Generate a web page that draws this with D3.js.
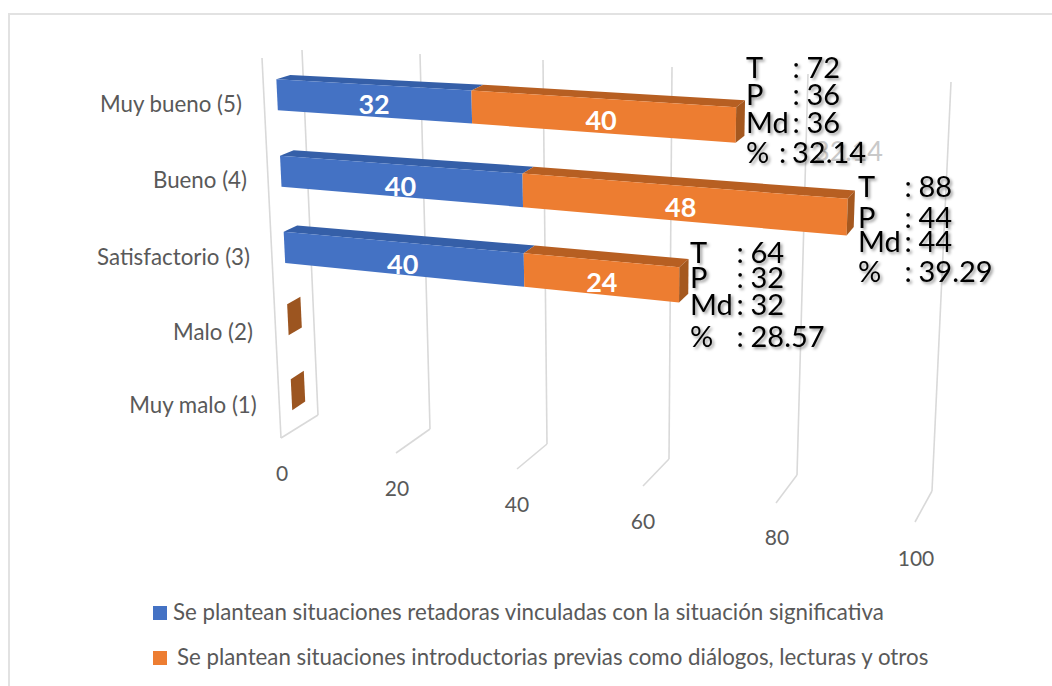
<!DOCTYPE html>
<html><head><meta charset="utf-8">
<script src="https://cdn.jsdelivr.net/npm/d3@7/dist/d3.min.js"></script>
<style>html,body{margin:0;padding:0;background:#fff}svg{display:block}
text{font-family:Lato,"Open Sans",sans-serif}</style></head><body><div id="c"></div>
<script>
const categories = ["Muy bueno (5)","Bueno (4)","Satisfactorio (3)","Malo (2)","Muy malo (1)"];
const retadoras = [32,40,40,0,0];
const introductorias = [40,48,24,0,0];
const seriesNames = ["Se plantean situaciones retadoras vinculadas con la situación significativa","Se plantean situaciones introductorias previas como diálogos, lecturas y otros"];
const ticks = [0,20,40,60,80,100];
const statT = ["72","88","64"], statP = ["36","44","32"], statMd = ["36","44","32"], statPct = ["32.14","39.29","28.57"];

const W=1052,H=686;
const svg=d3.select("#c").append("svg").attr("width",W).attr("height",H);
// calibration of the perspective box
const s=(r)=>d3.scaleLinear().domain(ticks).range(r);
const fbx=s([281,396,517,643,776,915]), fby=s([438,453,469,486,503,522]);
const bbx=s([318,430,547,669,797,932]), bby=s([415,429,444,459,475,491]);
const btx=s([302,420,543,672,808,951]), bty=s([50,54,60,67,74,82]);
const ftx=s([262,384,510,643,785,934]), fty=s([58,65,73,81,90,100]);
function P(v,h,d){
  const xb=fbx(v)+(bbx(v)-fbx(v))*d, yb=fby(v)+(bby(v)-fby(v))*d;
  const xt=ftx(v)+(btx(v)-ftx(v))*d, yt=fty(v)+(bty(v)-fty(v))*d;
  return [xb+(xt-xb)*h, yb+(yt-yb)*h];
}
const band=d3.scaleBand().domain(categories).range([1,0]);
const barH=.083, d0=.33, d1=.68, backLift=.003;
const rowNudge=[0,-.004,-.007,0,0];
const hHigh=c=>band(c)+band.bandwidth()/2+barH/2-.005+rowNudge[categories.indexOf(c)];
const hLow=(c,v)=>hHigh(c)-barH-.00007*v;   // bar grows slightly towards the viewer
const poly=(pts,fill)=>svg.append("polygon").attr("points",pts.map(p=>p.join(",")).join(" ")).attr("fill",fill);
const GRID="#d9d9d9";
const line=(a,b)=>svg.append("line").attr("x1",a[0]).attr("y1",a[1]).attr("x2",b[0]).attr("y2",b[1]).attr("stroke",GRID).attr("stroke-width",1.6);
// frame
svg.append("path").attr("d","M9 686V14H1052").attr("fill","none").attr("stroke","#e2e2e2").attr("stroke-width",2);
// grid
ticks.forEach(t=>{line(P(t,1,1),P(t,0,1));line(P(t,0,1),P(t,0,0));});
line(P(0,1,0),P(0,0,0));
// tick labels
const tickLabelPos=[[282,473],[397,488],[517,504],[643,521],[777,537],[916,558]];
ticks.forEach((t,i)=>svg.append("text").text(t).attr("x",tickLabelPos[i][0]).attr("y",tickLabelPos[i][1]+7.5).attr("text-anchor","middle").attr("font-size",21).attr("fill","#595959"));
// bars
const cols=[{f:"#4472c4",t:"#355fa8"},{f:"#ed7d31",t:"#b75f22"}];
const labelNudge=[[1,1],[3,1],[3,2]];
categories.forEach((c,i)=>{
  const a=retadoras[i], b=introductorias[i], hi=hHigh(c), hb=hi+backLift;
  if(a+b===0){
    const lo=hLow(c,0);
    poly([P(0,lo,d0),P(0,lo+backLift,d1),P(0,hb,d1),P(0,hi,d0)],"#9c5520");
    return;
  }
  [[0,a,0],[a,a+b,1]].forEach(([v0,v1,k])=>{
    poly([P(v0,hi,d0),P(v0,hb,d1),P(v1,hb,d1),P(v1,hi,d0)],cols[k].t);
    poly([P(v0,hLow(c,v0),d0),P(v1,hLow(c,v1),d0),P(v1,hi,d0),P(v0,hi,d0)],cols[k].f);
  });
  const e=a+b;
  poly([P(e,hLow(c,e),d0),P(e,hLow(c,e)+backLift,d1),P(e,hb,d1),P(e,hi,d0)],"#a5581f");
  [[a,a/2],[b,a+b/2]].forEach(([val,v],k)=>{
    const p=P(v,(hLow(c,v)+hi)/2,d0);
    svg.append("text").text(val).attr("x",p[0]+1).attr("y",p[1]+13+labelNudge[i][k]).attr("text-anchor","middle")
      .attr("font-size",27).attr("font-weight",700).attr("fill","#fff");
  });
});
// category labels
const catPos=[[171,104],[200,180],[173.5,257],[213,332],[193,405]];
categories.forEach((c,i)=>svg.append("text").text(c).attr("x",catPos[i][0]).attr("y",catPos[i][1]+7.5).attr("text-anchor","middle").attr("font-size",22.3).attr("fill","#595959"));
// stat labels
const defs=svg.append("defs");
defs.append("filter").attr("id","sh").attr("x","-20%").attr("y","-30%").attr("width","150%").attr("height","170%")
  .append("feDropShadow").attr("dx",2).attr("dy",2).attr("stdDeviation",1.8).attr("flood-color","#000").attr("flood-opacity",.4);
const statLayout=[{x:746,col:46.5,val:60.5,ys:[78,105,133,163],pc:[33,46]},{x:858,col:46.5,val:60.5,ys:[197,228,252,282],pc:[46.5,60.5]},{x:690,col:46.5,val:60.5,ys:[263,288,315,347],pc:[46.5,60.5]}];
svg.append("text").text(statPct[0]).attr("x",814).attr("y",161).attr("font-size",27).attr("fill","#c9c9c9");
statLayout.forEach((L,i)=>{
  const rows=[["T",statT[i]],["P",statP[i]],["Md",statMd[i]],["%",statPct[i]]];
  const gg=svg.append("g").attr("filter","url(#sh)");
  rows.forEach((r,j)=>{
    const cx=j===3?L.pc[0]:L.col, vx=j===3?L.pc[1]:L.val;
    gg.append("text").text(r[0]).attr("x",L.x).attr("y",L.ys[j]).attr("font-size",29).attr("fill","#000");
    gg.append("text").text(":").attr("x",L.x+cx).attr("y",L.ys[j]).attr("font-size",29).attr("fill","#000");
    gg.append("text").text(r[1]).attr("x",L.x+vx).attr("y",L.ys[j]).attr("font-size",29).attr("fill","#000");
  });
});
// legend
[[153,606,173,620,cols[0].f],[153,651,177,665,cols[1].f]].forEach((l,i)=>{
  svg.append("rect").attr("x",l[0]).attr("y",l[1]).attr("width",14).attr("height",14).attr("fill",l[4]);
  svg.append("text").text(seriesNames[i]).attr("x",l[2]).attr("y",l[3]).attr("font-size",22.3).attr("fill","#595959");
});
</script></body></html>
